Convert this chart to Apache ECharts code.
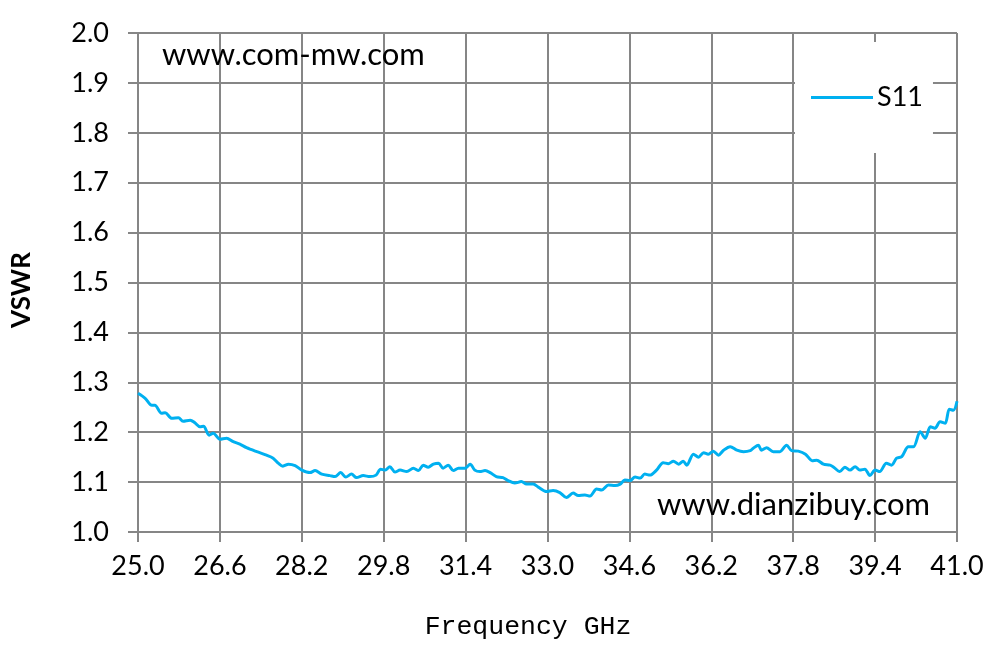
<!DOCTYPE html>
<html>
<head>
<meta charset="utf-8">
<script src="https://cdn.jsdelivr.net/npm/echarts@6/dist/echarts.min.js"></script>
<style>html,body{margin:0;padding:0;background:#fff;}#c{width:997px;height:655px;}</style>
</head>
<body>
<div id="c"></div>
<script>
const freqGHz = [25.00,25.14,25.27,25.33,25.46,25.53,25.66,25.79,25.88,26.02,26.11,26.21,26.28,26.39,26.47,26.60,26.73,26.86,26.99,27.12,27.32,27.51,27.64,27.74,27.83,27.94,28.07,28.20,28.36,28.46,28.59,28.75,28.85,28.96,29.06,29.17,29.27,29.40,29.53,29.65,29.74,29.83,29.92,30.02,30.12,30.25,30.38,30.48,30.57,30.67,30.77,30.87,30.96,31.06,31.16,31.26,31.39,31.49,31.58,31.68,31.78,31.88,32.00,32.13,32.23,32.36,32.49,32.59,32.72,32.82,32.98,33.11,33.24,33.37,33.50,33.60,33.73,33.83,33.96,34.06,34.19,34.32,34.42,34.51,34.61,34.71,34.81,34.90,35.00,35.13,35.26,35.36,35.46,35.56,35.65,35.72,35.85,35.95,36.05,36.14,36.24,36.34,36.44,36.57,36.70,36.83,36.96,37.02,37.12,37.18,37.28,37.41,37.54,37.67,37.77,37.90,38.04,38.17,38.26,38.39,38.52,38.59,38.71,38.81,38.91,39.01,39.10,39.20,39.30,39.40,39.49,39.62,39.72,39.82,39.92,40.05,40.15,40.28,40.38,40.48,40.57,40.67,40.77,40.85,40.93,41.00];
const s11Vswr = [1.278,1.268,1.254,1.254,1.238,1.239,1.228,1.229,1.222,1.224,1.219,1.211,1.212,1.194,1.198,1.186,1.188,1.181,1.176,1.169,1.161,1.154,1.148,1.138,1.132,1.136,1.133,1.124,1.119,1.123,1.116,1.113,1.111,1.119,1.110,1.116,1.109,1.113,1.111,1.114,1.126,1.124,1.131,1.120,1.124,1.121,1.128,1.123,1.134,1.130,1.136,1.138,1.128,1.134,1.123,1.128,1.128,1.136,1.124,1.121,1.123,1.119,1.111,1.109,1.103,1.098,1.101,1.096,1.096,1.090,1.081,1.083,1.079,1.069,1.078,1.073,1.074,1.072,1.086,1.084,1.094,1.093,1.096,1.104,1.103,1.110,1.108,1.116,1.114,1.124,1.139,1.137,1.142,1.136,1.142,1.134,1.156,1.150,1.159,1.156,1.162,1.154,1.164,1.171,1.164,1.161,1.163,1.168,1.174,1.164,1.169,1.161,1.161,1.174,1.163,1.162,1.156,1.143,1.144,1.136,1.134,1.130,1.121,1.130,1.124,1.131,1.124,1.126,1.113,1.124,1.121,1.138,1.134,1.148,1.151,1.171,1.171,1.201,1.188,1.211,1.208,1.221,1.218,1.246,1.244,1.262];
const seriesName = 'S11';
const xStart = 25.0, xEnd = 41.0, xStep = 1.6;
const yMin = 1.0, yMax = 2.0, yStep = 0.1;
const xTitle = 'Frequency GHz';
const yTitle = 'VSWR';
const watermarks = ['www.com-mw.com', 'www.dianzibuy.com'];

const gridColor = '#868686';
const labelFont = 'Lato, "Open Sans", sans-serif';
const chart = echarts.init(document.getElementById('c'), null, {renderer: 'canvas'});
chart.setOption({
  backgroundColor: '#ffffff',
  animation: false,
  grid: {left: 138, right: 40, top: 33, bottom: 123, containLabel: false},
  legend: {
    left: 795, top: 42,
    data: [{name: seriesName, icon: 'rect'}],
    backgroundColor: '#ffffff',
    padding: [42, 10, 42, 16],
    itemWidth: 62, itemHeight: 3, itemGap: 0,
    textStyle: {fontFamily: labelFont, fontSize: 27, color: '#000', padding: [0, 0, 0, -1]}
  },
  xAxis: {
    type: 'value',
    min: 0, max: xEnd - xStart, interval: xStep,
    axisLine: {show: true, lineStyle: {color: gridColor, width: 2}},
    axisTick: {show: true, inside: false, length: 10, lineStyle: {color: gridColor, width: 2}},
    splitLine: {show: true, lineStyle: {color: gridColor, width: 2}},
    axisLabel: {margin: 21, color: '#000', fontFamily: labelFont, fontSize: 27,
      formatter: v => (v + xStart).toFixed(1)}
  },
  yAxis: {
    type: 'value',
    min: yMin, max: yMax, interval: yStep,
    axisLine: {show: true, lineStyle: {color: gridColor, width: 2}},
    axisTick: {show: true, inside: false, length: 10, lineStyle: {color: gridColor, width: 2}},
    splitLine: {show: true, lineStyle: {color: gridColor, width: 2}},
    axisLabel: {margin: 29, color: '#000', fontFamily: labelFont, fontSize: 27,
      formatter: v => v.toFixed(1)}
  },
  graphic: [
    {type: 'text', left: 162, top: 39, z: 10, style: {text: watermarks[0], fontFamily: labelFont, fontSize: 31, fill: '#000'}},
    {type: 'text', left: 657, top: 489, z: 10, style: {text: watermarks[1], fontFamily: labelFont, fontSize: 31, fill: '#000'}},
    {type: 'text', x: 22, y: 290, rotation: Math.PI / 2, z: 10,
      style: {text: yTitle, fontFamily: labelFont, fontWeight: 'bold', fontSize: 26, fill: '#000', align: 'center', verticalAlign: 'middle'}},
    {type: 'text', x: 528, y: 627, z: 10,
      style: {text: xTitle, fontFamily: '"Liberation Mono", "DejaVu Sans Mono", monospace', fontSize: 26.5, fill: '#000', align: 'center', verticalAlign: 'middle'}}
  ],
  series: [{
    name: seriesName,
    type: 'line',
    data: freqGHz.map((f, i) => [f - xStart, s11Vswr[i]]),
    showSymbol: false, symbol: 'none',
    smooth: 0.3,
    lineStyle: {color: '#00b0f0', width: 3},
    itemStyle: {color: '#00b0f0'}
  }]
});
</script>
</body>
</html>
